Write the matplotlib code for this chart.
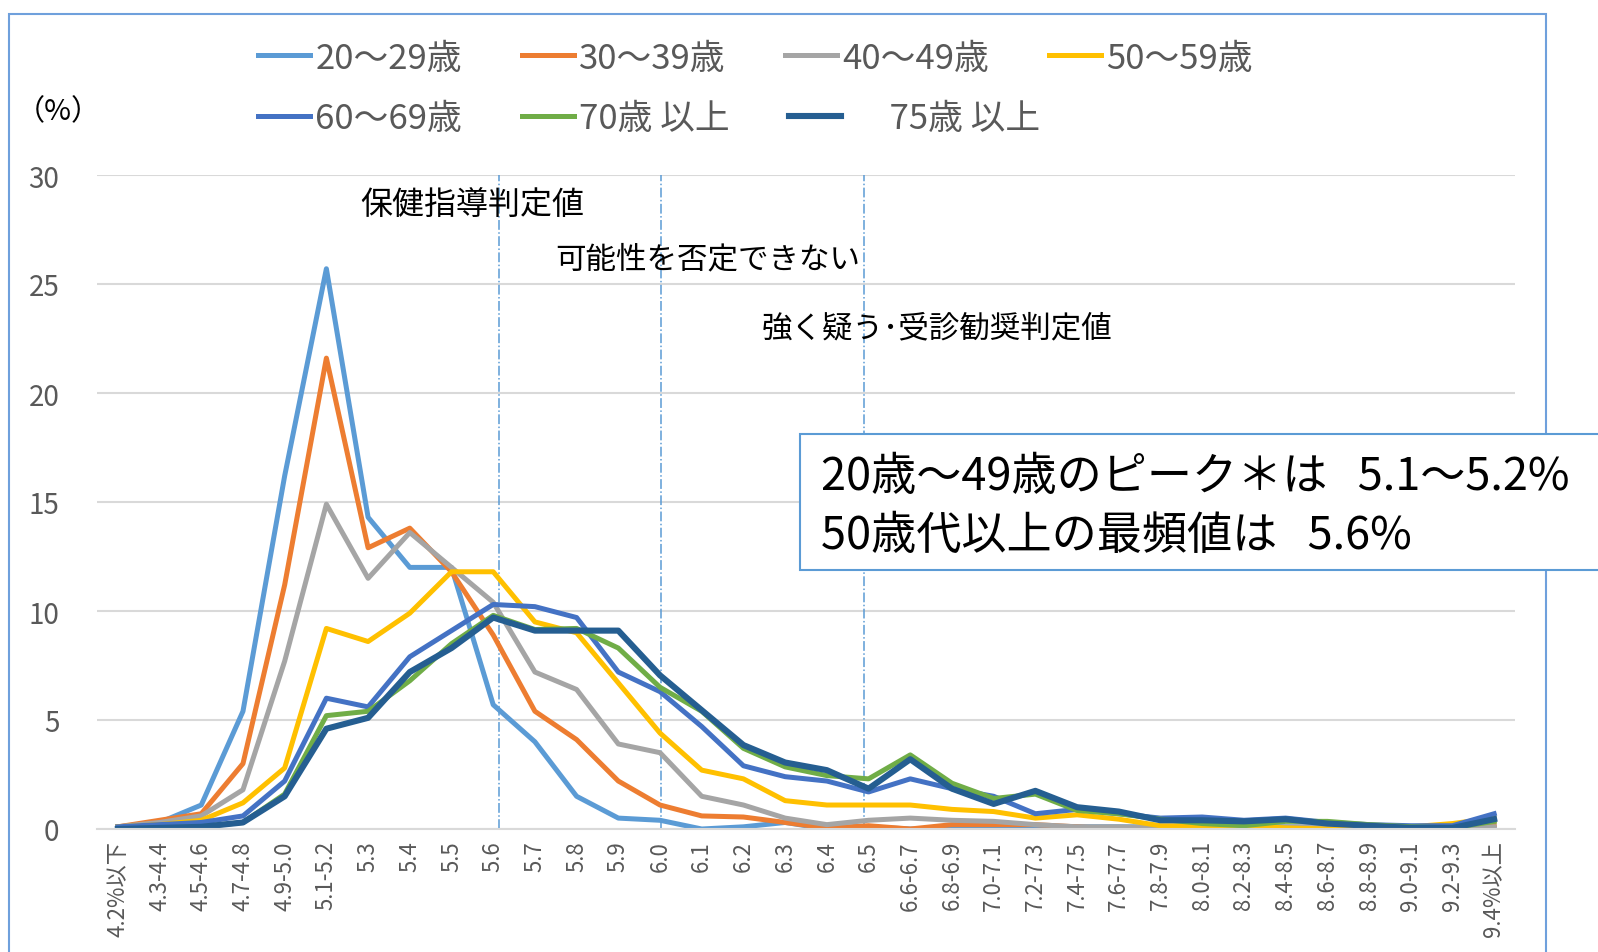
import numpy as np
import matplotlib
matplotlib.use('Agg')
import matplotlib.pyplot as plt
from matplotlib.patches import Rectangle

# HbA1c 区分
cats = ['4.2%以下', '4.3-4.4', '4.5-4.6', '4.7-4.8', '4.9-5.0', '5.1-5.2', '5.3', '5.4',
        '5.5', '5.6', '5.7', '5.8', '5.9', '6.0', '6.1', '6.2', '6.3', '6.4', '6.5',
        '6.6-6.7', '6.8-6.9', '7.0-7.1', '7.2-7.3', '7.4-7.5', '7.6-7.7', '7.8-7.9',
        '8.0-8.1', '8.2-8.3', '8.4-8.5', '8.6-8.7', '8.8-8.9', '9.0-9.1', '9.2-9.3', '9.4%以上']

age20 = [0.1, 0.3, 1.1, 5.4, 16.2, 25.7, 14.3, 12.0, 12.0, 5.7, 4.0, 1.5, 0.5, 0.4, 0.0, 0.1, 0.3,
         0.0, 0.1, 0.0, 0.0, 0.0, 0.1, 0.1, 0.1, 0.1, 0.1, 0.1, 0.1, 0.1, 0.1, 0.0, 0.0, 0.0]
age30 = [0.1, 0.4, 0.7, 3.0, 11.2, 21.6, 12.9, 13.8, 11.8, 8.9, 5.4, 4.1, 2.2, 1.1, 0.6, 0.55, 0.3,
         0.05, 0.15, 0.0, 0.2, 0.2, 0.2, 0.1, 0.0, 0.0, 0.0, 0.0, 0.0, 0.0, 0.0, 0.0, 0.0, 0.2]
age40 = [0.1, 0.3, 0.6, 1.8, 7.7, 14.9, 11.5, 13.6, 12.0, 10.4, 7.2, 6.4, 3.9, 3.5, 1.5, 1.1, 0.5,
         0.2, 0.4, 0.5, 0.4, 0.35, 0.2, 0.1, 0.1, 0.05, 0.1, 0.1, 0.1, 0.1, 0.1, 0.1, 0.1, 0.1]
age50 = [0.1, 0.2, 0.4, 1.2, 2.8, 9.2, 8.6, 9.9, 11.8, 11.8, 9.5, 9.0, 6.7, 4.4, 2.7, 2.3, 1.3,
         1.1, 1.1, 1.1, 0.9, 0.8, 0.5, 0.65, 0.45, 0.15, 0.15, 0.15, 0.05, 0.0, 0.05, 0.1, 0.25, 0.5]
age60 = [0.1, 0.2, 0.3, 0.6, 2.2, 6.0, 5.6, 7.9, 9.1, 10.3, 10.2, 9.7, 7.2, 6.3, 4.7, 2.9, 2.4,
         2.2, 1.7, 2.3, 1.85, 1.5, 0.7, 0.9, 0.7, 0.5, 0.55, 0.4, 0.5, 0.3, 0.2, 0.15, 0.15, 0.7]
age70 = [0.0, 0.05, 0.1, 0.3, 1.6, 5.2, 5.4, 6.8, 8.5, 9.8, 9.15, 9.2, 8.3, 6.5, 5.4, 3.7, 2.85,
         2.45, 2.3, 3.4, 2.1, 1.4, 1.6, 0.85, 0.7, 0.45, 0.25, 0.15, 0.35, 0.35, 0.2, 0.1, 0.05, 0.35]
age75 = [0.0, 0.05, 0.1, 0.3, 1.5, 4.6, 5.1, 7.2, 8.3, 9.7, 9.1, 9.1, 9.1, 7.05, 5.45, 3.85, 3.05,
         2.7, 1.85, 3.2, 1.85, 1.15, 1.75, 1.0, 0.8, 0.4, 0.4, 0.35, 0.45, 0.25, 0.15, 0.05, 0.05, 0.45]

labels = ['20～29歳', '30～39歳', '40～49歳', '50～59歳', '60～69歳', '70歳 以上', '　 75歳 以上']
colors = ['#5B9BD5', '#ED7D31', '#A5A5A5', '#FFC000', '#4472C4', '#70AD47', '#255E91']
widths = [3.6, 3.6, 3.6, 3.6, 3.6, 3.6, 4.4]
series = [age20, age30, age40, age50, age60, age70, age75]

plt.rcParams['font.family'] = ['Noto Sans CJK JP', 'DejaVu Sans']

W, H = 1598, 953
fig = plt.figure(figsize=(W / 100, H / 100), dpi=100)
ax = fig.add_axes([97 / W, 1 - 830 / H, (1515 - 97) / W, (830 - 176) / H])

x = np.arange(len(cats))
lines = []
for vals, lab, col, lw in zip(series, labels, colors, widths):
    l, = ax.plot(x, vals, color=col, lw=lw, label=lab)
    lines.append(l)

ax.set_xlim(-0.5, len(cats) - 0.5)
ax.set_ylim(0, 30)
ax.set_yticks(range(0, 31, 5))
ax.yaxis.grid(True, color='#D9D9D9', lw=1.5)
ax.set_axisbelow(True)
for s in ['left', 'right', 'top']:
    ax.spines[s].set_visible(False)
ax.spines['bottom'].set_color('#D9D9D9')
ax.spines['bottom'].set_linewidth(1.5)
ax.set_xticks(x)
ax.set_xticklabels(cats, rotation=90, fontsize=16, color='#595959')
ax.tick_params(axis='x', length=0, pad=8)
ax.tick_params(axis='y', length=0, pad=27, labelsize=20, labelcolor='#595959')

# 判定値の縦線
for v in [9.13, 13.02, 17.88]:
    ax.axvline(v, color='#5B9BD5', lw=1.1, ls='-.', zorder=1)

def px(xp, yp):
    return xp / W, 1 - yp / H

fig.text(*px(472, 206), '保健指導判定値', fontsize=23, ha='center', va='center')
fig.text(*px(708, 260), '可能性を否定できない', fontsize=22, ha='center', va='center')
fig.text(*px(937, 329), '強く疑う･受診勧奨判定値', fontsize=22, ha='center', va='center')
fig.text(*px(58, 112), '（%）', fontsize=21, ha='center', va='center')

# 凡例 (2段)
common = dict(loc='center left', frameon=False, fontsize=25, handlelength=1.5,
              handletextpad=0.15, borderpad=0, borderaxespad=0, labelcolor='#595959')
fig.legend(handles=lines[:4], ncol=4, columnspacing=1.72,
           bbox_to_anchor=px(258, 59), **common)
fig.legend(handles=lines[4:], ncol=3, columnspacing=1.72,
           bbox_to_anchor=px(258, 120), **common)

# 注記ボックス
fig.add_artist(Rectangle(px(800, 571), 820 / W, 136 / H, transform=fig.transFigure,
                         facecolor='white', edgecolor='#5B9BD5', lw=1.5, zorder=5))
fig.text(*px(821, 477), '20歳～49歳のピーク＊は   5.1～5.2%', fontsize=32.5,
         ha='left', va='center', zorder=6)
fig.text(*px(821, 536), '50歳代以上の最頻値は   5.6%', fontsize=32.5,
         ha='left', va='center', zorder=6)

# 外枠
fig.add_artist(Rectangle(px(9, 965), 1537 / W, 950 / H, transform=fig.transFigure,
                         facecolor='none', edgecolor='#6FA0DC', lw=1.5, zorder=0))

fig.savefig('out.png', dpi=100)
plt.close(fig)
